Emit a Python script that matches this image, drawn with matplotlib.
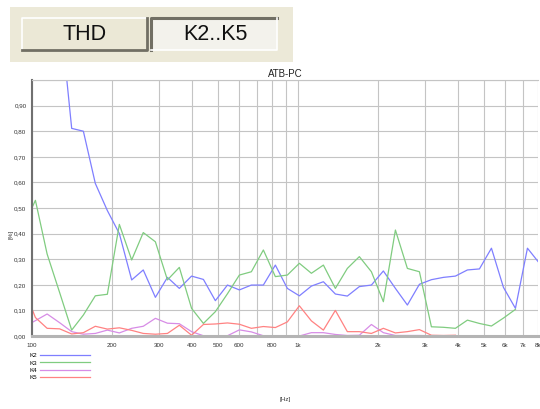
import numpy as np
import matplotlib
matplotlib.use("Agg")
import matplotlib.pyplot as plt
from matplotlib.patches import Rectangle
from matplotlib.ticker import FixedLocator, FixedFormatter, NullLocator

plt.rcParams['font.family'] = ['Liberation Sans', 'DejaVu Sans']

# Frequenzraster der Messung [Hz]
freq = [93, 103, 114, 127, 141, 156, 173, 192, 213, 237,
        262, 291, 323, 358, 398, 441, 489, 543, 602, 668,
        741, 822, 912, 1012, 1123, 1246, 1382, 1533, 1701, 1888,
        2094, 2324, 2578, 2861, 3174, 3522, 3907, 4335, 4810, 5337,
        5921, 6569, 7289, 8087]

nan = np.nan
# Klirrkomponenten [%]
k2 = [nan, nan, nan, 1.28, 0.811, 0.80, 0.596, 0.49, 0.40, 0.219,
      0.258, 0.151, 0.229, 0.186, 0.234, 0.221, 0.138, 0.199, 0.18, 0.199,
      0.199, 0.277, 0.186, 0.157, 0.195, 0.212, 0.164, 0.156, 0.193, 0.199,
      0.254, 0.186, 0.121, 0.202, 0.22, 0.229, 0.234, 0.258, 0.262, 0.343,
      0.19, 0.108, 0.343, 0.284]
k3 = [0.43, 0.53, 0.32, 0.17, 0.023, 0.082, 0.157, 0.163, 0.436, 0.297,
      0.404, 0.368, 0.219, 0.268, 0.108, 0.049, 0.095, 0.165, 0.238, 0.251,
      0.336, 0.232, 0.238, 0.284, 0.245, 0.277, 0.186, 0.264, 0.31, 0.251,
      0.134, 0.414, 0.264, 0.251, 0.036, 0.034, 0.030, 0.062, 0.049, 0.039,
      0.07, 0.104, nan, nan]
k4 = [0.035, 0.06, 0.086, 0.052, 0.017, 0.007, 0.01, 0.023, 0.012, 0.03,
      0.038, 0.069, 0.05, 0.048, 0.017, 0.001, 0.001, 0.001, 0.024, 0.016,
      0.001, 0.0, 0.0, 0.0, 0.013, 0.013, 0.006, 0.002, 0.003, 0.045,
      0.013, 0.002, 0.002, 0.002, 0.001, 0.001, 0.001, 0.001, 0.001, nan,
      nan, nan, nan, nan]
k5 = [0.19, 0.072, 0.03, 0.028, 0.008, 0.013, 0.038, 0.027, 0.032, 0.022,
      0.01, 0.007, 0.01, 0.042, 0.003, 0.045, 0.047, 0.051, 0.046, 0.03,
      0.037, 0.033, 0.055, 0.118, 0.059, 0.023, 0.10, 0.017, 0.017, 0.01,
      0.03, 0.012, 0.017, 0.025, 0.003, 0.002, 0.003, nan, nan, nan,
      nan, nan, nan, nan]

series = [('K2', k2, '#7f7fff'), ('K3', k3, '#80cc80'),
          ('K4', k4, '#d78ce6'), ('K5', k5, '#ff8282')]

x_ticks = [100, 200, 300, 400, 500, 600, 700, 800, 900,
           1000, 2000, 3000, 4000, 5000, 6000, 7000, 8000]
x_labels = ['100', '200', '300', '400', '500', '600', '', '800', '',
            '1k', '2k', '3k', '4k', '5k', '6k', '7k', '8k']
y_ticks = [0.0, 0.1, 0.2, 0.3, 0.4, 0.5, 0.6, 0.7, 0.8, 0.9, 1.0]
y_labels = ['0,00', '0,10', '0,20', '0,30', '0,40', '0,50',
            '0,60', '0,70', '0,80', '0,90', '']

fig = plt.figure(figsize=(5.4, 4.09), dpi=100)

# Umschalter THD / K2..K5 (Pixelkoordinaten)
ui = fig.add_axes([0, 0, 1, 1])
ui.set_xlim(0, 540)
ui.set_ylim(409, 0)
ui.axis('off')
ui.add_patch(Rectangle((10, 7), 283, 55, facecolor='#ece9d8', edgecolor='none'))
ui.add_patch(Rectangle((22, 18), 125, 32, facecolor='#ebe8d6', edgecolor='none'))
ui.plot([22, 22, 147], [50, 18, 18], color='white', lw=1.2)
ui.plot([22, 147, 147], [50, 50, 18], color='#716f64', lw=2.0)
ui.add_patch(Rectangle((151, 18), 126, 32, facecolor='#f3f2ec', edgecolor='none'))
ui.plot([151, 151, 277], [50, 18, 18], color='#716f64', lw=2.2)
ui.plot([151, 277, 277], [50, 50, 18], color='white', lw=1.2)
ui.text(85, 35, 'THD', fontsize=15.5, ha='center', va='center', color='#111111')
ui.text(215, 35, 'K2..K5', fontsize=15.5, ha='center', va='center', color='#111111')

# Diagramm
ax = fig.add_axes([32 / 540, 73 / 409, 506.2 / 540, 256 / 409])
for name, vals, col in series:
    ax.plot(freq, vals, color=col, lw=0.9, label=name)

ax.set_xscale('log')
ax.set_xlim(100, 8000)
ax.set_ylim(0, 1.0)
ax.xaxis.set_major_locator(FixedLocator(x_ticks))
ax.xaxis.set_major_formatter(FixedFormatter(x_labels))
ax.xaxis.set_minor_locator(NullLocator())
ax.yaxis.set_major_locator(FixedLocator(y_ticks))
ax.yaxis.set_major_formatter(FixedFormatter(y_labels))
ax.tick_params(length=0, labelsize=4.5, labelcolor='#333333')
ax.tick_params(axis='x', pad=5)
ax.tick_params(axis='y', pad=4)
ax.grid(True, color='#c4c4c4', lw=0.8)
ax.set_axisbelow(True)

ax.spines['left'].set_color('#707070')
ax.spines['left'].set_linewidth(1.5)
ax.spines['bottom'].set_color('#b4b4b4')
ax.spines['bottom'].set_linewidth(2.2)
ax.spines['top'].set_color('#c4c4c4')
ax.spines['top'].set_linewidth(0.8)
ax.spines['right'].set_visible(False)

ax.set_title('ATB-PC', fontsize=7, pad=2, color='#222222')

fig.text(11 / 540, 1 - 234 / 409, '[%]', rotation=90, fontsize=4.5,
         ha='center', va='center', color='#333333')
fig.text(285 / 540, 1 - 400 / 409, '[Hz]', fontsize=4.5,
         ha='center', va='center', color='#333333')

ax.legend(loc='upper left', bbox_to_anchor=(29 / 540, 1 - 353 / 409),
          bbox_transform=fig.transFigure, frameon=False, markerfirst=False,
          fontsize=4.5, handlelength=8, handletextpad=0.5,
          labelspacing=0.3, borderpad=0, borderaxespad=0)

fig.savefig('out.png', dpi=100)
